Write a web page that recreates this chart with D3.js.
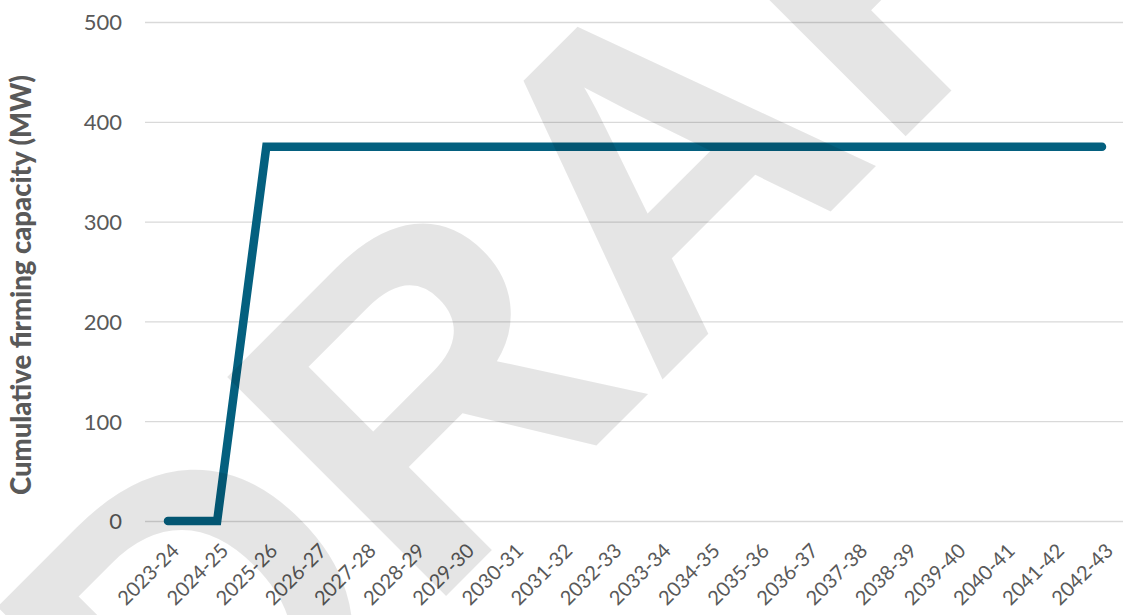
<!DOCTYPE html>
<html>
<head>
<meta charset="utf-8">
<script src="https://cdn.jsdelivr.net/npm/d3@7"></script>
<style>
  html, body { margin: 0; padding: 0; background: #fff; }
  svg { display: block; }
</style>
</head>
<body>
<svg id="chart" width="1123" height="615"></svg>
<script>
const categories = ["2023-24","2024-25","2025-26","2026-27","2027-28","2028-29","2029-30","2030-31","2031-32","2032-33","2033-34","2034-35","2035-36","2036-37","2037-38","2038-39","2039-40","2040-41","2041-42","2042-43"];
const capacityMW = [0,0,375,375,375,375,375,375,375,375,375,375,375,375,375,375,375,375,375,375];
const yTicks = [0,100,200,300,400,500];
const yTitle = "Cumulative firming capacity (MW)";
const watermark = "DRAFT";

const svg = d3.select("#chart");
const plotLeft = 145, plotRight = 1123, plotTop = 22, plotBottom = 521;

const x = d3.scalePoint().domain(categories).range([168, 1102]);
const y = d3.scaleLinear().domain([0, 500]).range([plotBottom, plotTop]);

const textColor = "#595959";
const font = "Lato, 'Open Sans', sans-serif";

// gridlines + y tick labels
const yAxis = d3.axisLeft(y).tickValues(yTicks).tickSize(-(plotRight - plotLeft)).tickPadding(23).tickFormat(d3.format("d"));
const gy = svg.append("g").attr("transform", `translate(${plotLeft},0)`).call(yAxis);
gy.select(".domain").remove();
gy.selectAll(".tick line").attr("stroke", "#d9d9d9").attr("stroke-width", 1.3);
gy.selectAll(".tick text").attr("fill", textColor).attr("font-family", font).attr("font-size", 22).attr("dy", "0.36em");

// x axis labels
const xAxis = d3.axisBottom(x).tickSize(0).tickPadding(0);
const gx = svg.append("g").attr("transform", `translate(0,${plotBottom})`).call(xAxis);
gx.select(".domain").remove();
gx.selectAll(".tick text")
  .attr("fill", textColor)
  .attr("font-family", font)
  .attr("font-size", 20)
  .attr("text-anchor", "end")
  .attr("dy", null)
  .attr("y", 0)
  .attr("transform", "translate(12,31) rotate(-45)");

// line
const line = d3.line().x((d, i) => x(categories[i])).y(d => y(d));
svg.append("path")
  .datum(capacityMW)
  .attr("d", line)
  .attr("fill", "none")
  .attr("stroke", "#04607f")
  .attr("stroke-width", 8.5)
  .attr("stroke-linecap", "round")
  .attr("stroke-linejoin", "miter");

// y axis title
svg.append("text")
  .attr("transform", "translate(31,285) rotate(-90)")
  .attr("text-anchor", "middle")
  .attr("font-family", font)
  .attr("font-weight", 900)
  .attr("font-size", 27.5)
  .attr("fill", textColor)
  .text(yTitle);

// watermark
svg.append("text")
  .attr("transform", "translate(195,847) rotate(-45)")
  .attr("font-family", "'Liberation Sans', Arial, sans-serif")
  .attr("font-weight", "bold")
  .attr("font-size", 450)
  .attr("fill", "#000")
  .attr("fill-opacity", 0.1)
  .text(watermark);
</script>
</body>
</html>
